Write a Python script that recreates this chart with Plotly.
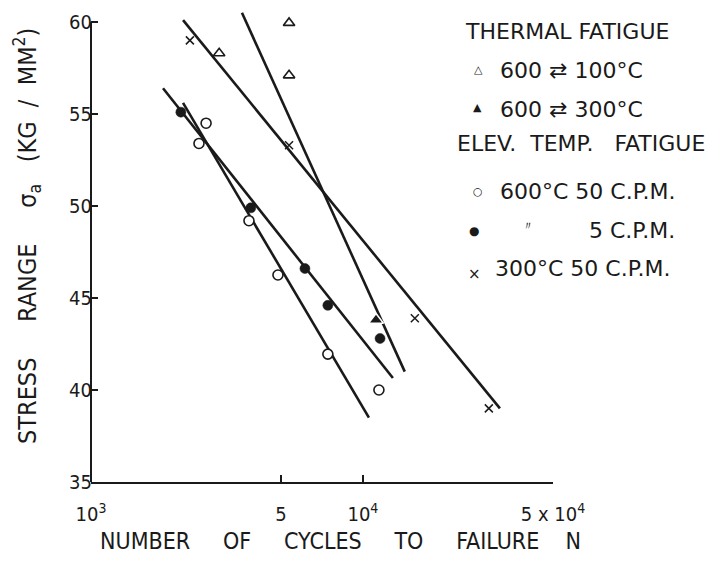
import plotly.graph_objects as go

# ---------------- data ----------------
# Thermal fatigue 600 <-> 100 C (open triangles)
tf100_N = [2960, 5350, 5350]
tf100_S = [58.3, 59.95, 57.1]
# Thermal fatigue 600 <-> 300 C (filled triangle)
tf300_N = [11170]
tf300_S = [43.8]
# Elevated temperature fatigue 600 C, 50 c.p.m. (open circles)
e600_50_N = [2650, 2495, 3810, 4870, 7430, 11450]
e600_50_S = [54.5, 53.4, 49.2, 46.25, 41.95, 40.0]
# Elevated temperature fatigue 600 C, 5 c.p.m. (filled circles)
e600_5_N = [2140, 3870, 6120, 7430, 11560]
e600_5_S = [55.1, 49.9, 46.6, 44.6, 42.8]
# Elevated temperature fatigue 300 C, 50 c.p.m. (crosses)
e300_50_N = [2310, 5350, 15520, 29040]
e300_50_S = [59.0, 53.3, 43.9, 39.0]

# Fitted straight lines (end points)
fit_thermal_N = [3590, 14250]
fit_thermal_S = [60.5, 41.0]
fit_300_N = [2180, 31900]
fit_300_S = [60.1, 39.0]
fit_5cpm_N = [1840, 12890]
fit_5cpm_S = [56.4, 40.65]
fit_50cpm_N = [2180, 10520]
fit_50cpm_S = [55.6, 38.5]

# Axis ticks
x_tickvals = [1000, 5000, 10000, 50000]
x_ticktext = ["10<sup>3</sup>", "5", "10<sup>4</sup>", "5 x 10<sup>4</sup>"]
y_tickvals = [35, 40, 45, 50, 55, 60]
y_ticktext = ["35", "40", "45", "50", "55", "60"]

# ---------------- figure ----------------
FONT = "DejaVu Sans Condensed, Liberation Sans Narrow, DejaVu Sans, sans-serif"
LFONT = "DejaVu Sans, Liberation Sans, sans-serif"
INK = "#1a1a1a"

W, H = 727, 565
ML, MR, MT, MB = 91, 174, 11, 83
PW = W - ML - MR
PH = H - MT - MB


def px(x):
    return (x - ML) / PW


def py(y):
    return (H - MB - y) / PH


fig = go.Figure()

line_style = dict(color=INK, width=2.6)
for n, s in [(fit_thermal_N, fit_thermal_S), (fit_300_N, fit_300_S),
             (fit_5cpm_N, fit_5cpm_S), (fit_50cpm_N, fit_50cpm_S)]:
    fig.add_trace(go.Scatter(x=n, y=s, mode="lines", line=line_style,
                             showlegend=False, hoverinfo="skip"))

fig.add_trace(go.Scatter(x=tf100_N, y=tf100_S, mode="markers", showlegend=False,
                         marker=dict(symbol="triangle-up-open", size=10, color=INK,
                                     line=dict(width=1.6, color=INK))))
fig.add_trace(go.Scatter(x=tf300_N, y=tf300_S, mode="markers", showlegend=False,
                         marker=dict(symbol="triangle-up", size=13, color=INK,
                                     line=dict(width=1.5, color="white"))))
fig.add_trace(go.Scatter(x=e600_50_N, y=e600_50_S, mode="markers", showlegend=False,
                         marker=dict(symbol="circle", size=10, color="white",
                                     line=dict(width=1.6, color=INK))))
fig.add_trace(go.Scatter(x=e600_5_N, y=e600_5_S, mode="markers", showlegend=False,
                         marker=dict(symbol="circle", size=10, color=INK,
                                     line=dict(width=0.5, color=INK))))
fig.add_trace(go.Scatter(x=e300_50_N, y=e300_50_S, mode="markers", showlegend=False,
                         marker=dict(symbol="x-thin", size=8, color=INK,
                                     line=dict(width=1.5, color=INK))))

# y axis line only from 35 to 60
fig.add_shape(type="line", xref="paper", yref="y", x0=0, x1=0, y0=35, y1=60,
              line=dict(color=INK, width=2))

nb = "\u00a0"
ann = []
# axis titles
ann.append(dict(text=("NUMBER" + nb * 5 + "OF" + nb * 5 + "CYCLES" + nb * 5 + "TO" + nb * 5
                      + "FAILURE" + nb * 4 + "N"),
                x=px(340), y=py(541), font=dict(size=23, family=FONT)))
ann.append(dict(text=("STRESS" + nb * 5 + "RANGE" + nb * 5 + "σ<sub>a</sub>" + nb * 3
                      + "(KG" + nb * 2 + "/" + nb * 2 + "MM<sup>2</sup>)"),
                x=px(27), y=py(236), textangle=-90, font=dict(size=25, family=FONT)))

# legend block
LS = 22
ann.append(dict(text="THERMAL FATIGUE", x=px(463), y=py(32), xanchor="left", font=dict(size=LS)))
ann.append(dict(text="△", x=px(478), y=py(70), font=dict(size=11)))
ann.append(dict(text="600 ⇄ 100°C", x=px(498), y=py(71), xanchor="left", font=dict(size=LS)))
ann.append(dict(text="▲", x=px(477), y=py(108), font=dict(size=11)))
ann.append(dict(text="600 ⇄ 300°C", x=px(498), y=py(110), xanchor="left", font=dict(size=LS)))
ann.append(dict(text="ELEV." + nb * 2 + "TEMP." + nb * 3 + "FATIGUE", x=px(455), y=py(143),
                xanchor="left", font=dict(size=LS)))
ann.append(dict(text="○", x=px(478), y=py(191), font=dict(size=11)))
ann.append(dict(text="600°C 50 C.P.M.", x=px(498), y=py(191), xanchor="left", font=dict(size=LS)))
ann.append(dict(text="●", x=px(474), y=py(231), font=dict(size=12)))
ann.append(dict(text="〃", x=px(528), y=py(226), font=dict(size=12)))
ann.append(dict(text="5 C.P.M.", x=px(587), y=py(230), xanchor="left", font=dict(size=LS)))
ann.append(dict(text="×", x=px(474), y=py(274), font=dict(size=15)))
ann.append(dict(text="300°C 50 C.P.M.", x=px(493), y=py(268), xanchor="left", font=dict(size=LS)))

for a in ann:
    a.setdefault("xanchor", "center")
    a.update(xref="paper", yref="paper", yanchor="middle", showarrow=False)
    a["font"] = dict(family=a["font"].get("family", LFONT), color=INK, size=a["font"]["size"])

fig.update_layout(
    width=W, height=H,
    margin=dict(l=ML, r=MR, t=MT, b=MB, pad=0),
    paper_bgcolor="white", plot_bgcolor="white",
    font=dict(family=FONT, color=INK, size=19),
    showlegend=False,
    annotations=ann,
    xaxis=dict(type="log", range=[3, 4.69897], tickvals=x_tickvals, ticktext=x_ticktext,
               ticks="inside", ticklen=7, tickwidth=1.5, tickcolor=INK,
               showline=True, linecolor=INK, linewidth=2, showgrid=False, zeroline=False,
               ticklabelstandoff=13, tickfont=dict(size=20)),
    yaxis=dict(range=[35, 35 + PH / 18.4], tickvals=y_tickvals, ticktext=y_ticktext,
               ticks="inside", ticklen=7, tickwidth=1.5, tickcolor=INK,
               showline=False, showgrid=False, zeroline=False,
               ticklabelstandoff=-2, tickfont=dict(size=20)),
)

fig.write_html("out.html")
